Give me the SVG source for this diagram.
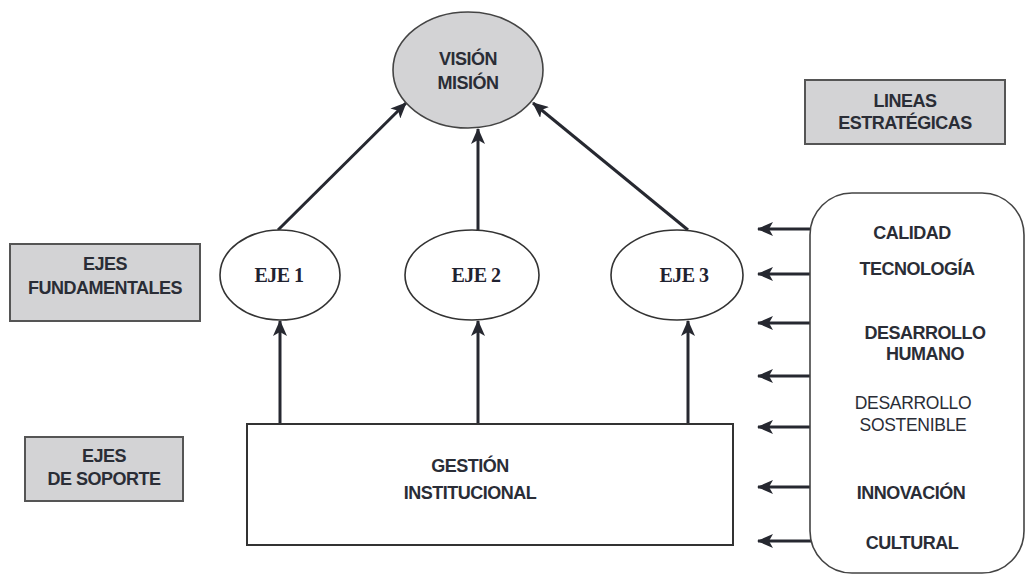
<svg xmlns="http://www.w3.org/2000/svg" width="1026" height="574" viewBox="0 0 1026 574">
<style>
.lbl{font-family:"Liberation Sans",Arial,sans-serif;font-weight:bold;font-size:18px;letter-spacing:-0.5px;fill:#2a2d36;text-anchor:middle}
.reg{font-family:"Liberation Sans",Arial,sans-serif;font-weight:normal;font-size:17.5px;letter-spacing:-0.3px;fill:#2a2d36;text-anchor:middle}
.eje{font-family:"Liberation Serif","Times New Roman",serif;font-weight:bold;font-size:20px;letter-spacing:-0.5px;fill:#1f2230;text-anchor:middle}
.gbox{fill:#d3d3d5;stroke:#555;stroke-width:2}
.ell{fill:#fff;stroke:#333;stroke-width:1.6}
.arr{stroke:#262830;stroke-width:3;fill:none;marker-end:url(#ah)}
</style>
<defs>
<marker id="ah" markerUnits="userSpaceOnUse" markerWidth="18" markerHeight="14" refX="15" refY="7" orient="auto">
<path d="M0,0 L16,7 L0,14 L4,7 Z" fill="#262830"/>
</marker>
</defs>
<rect width="1026" height="574" fill="#fff"/>

<g id="connectors">
<line class="arr" x1="278" y1="230" x2="406" y2="103"/>
<line class="arr" x1="478" y1="230" x2="478" y2="129"/>
<line class="arr" x1="688" y1="230" x2="533" y2="103"/>
<line class="arr" x1="280" y1="425" x2="280" y2="321"/>
<line class="arr" x1="478" y1="425" x2="478" y2="321"/>
<line class="arr" x1="688" y1="425" x2="688" y2="321"/>
<line class="arr" x1="811" y1="229" x2="758" y2="229"/>
<line class="arr" x1="811" y1="274" x2="758" y2="274"/>
<line class="arr" x1="811" y1="323" x2="758" y2="323"/>
<line class="arr" x1="811" y1="376" x2="758" y2="376"/>
<line class="arr" x1="811" y1="427" x2="758" y2="427"/>
<line class="arr" x1="811" y1="487" x2="758" y2="487"/>
<line class="arr" x1="811" y1="541" x2="758" y2="541"/>
</g>

<g id="vision">
<ellipse cx="468" cy="70" rx="75" ry="58" fill="#d3d3d5" stroke="#444" stroke-width="1.6"/>
<text class="lbl" x="468" y="65">VISIÓN</text>
<text class="lbl" x="468" y="89">MISIÓN</text>
</g>

<g id="lineas">
<rect class="gbox" x="805" y="80" width="200" height="64"/>
<text class="lbl" x="905" y="107">LINEAS</text>
<text class="lbl" x="905" y="129">ESTRATÉGICAS</text>
</g>

<g id="ejes-fundamentales">
<rect class="gbox" x="10" y="244" width="190" height="77"/>
<text class="lbl" x="105" y="270">EJES</text>
<text class="lbl" x="105" y="294">FUNDAMENTALES</text>
</g>

<g id="eje1">
<ellipse class="ell" cx="280" cy="275" rx="60" ry="45"/>
<text class="eje" x="279" y="282">EJE 1</text>
</g>
<g id="eje2">
<ellipse class="ell" cx="472" cy="275" rx="67" ry="45"/>
<text class="eje" x="476" y="282">EJE 2</text>
</g>
<g id="eje3">
<ellipse class="ell" cx="677" cy="275" rx="66" ry="45"/>
<text class="eje" x="684" y="282">EJE 3</text>
</g>

<g id="ejes-soporte">
<rect class="gbox" x="25" y="437" width="158" height="64"/>
<text class="lbl" x="104" y="462">EJES</text>
<text class="lbl" x="104" y="485">DE SOPORTE</text>
</g>

<g id="gestion">
<rect x="247" y="424" width="486" height="121" fill="#fff" stroke="#333" stroke-width="2"/>
<text class="lbl" x="470" y="472">GESTIÓN</text>
<text class="lbl" x="470" y="499">INSTITUCIONAL</text>
</g>

<g id="lineas-lista">
<rect x="810" y="193" width="214" height="380" rx="42" ry="42" fill="#fff" stroke="#444" stroke-width="1.6"/>
<text class="lbl" x="912" y="239">CALIDAD</text>
<text class="lbl" x="917" y="275">TECNOLOGÍA</text>
<text class="lbl" x="925" y="339">DESARROLLO</text>
<text class="lbl" x="925" y="360">HUMANO</text>
<text class="reg" x="913" y="409">DESARROLLO</text>
<text class="reg" x="913" y="431">SOSTENIBLE</text>
<text class="lbl" x="911" y="499">INNOVACIÓN</text>
<text class="lbl" x="912" y="549">CULTURAL</text>
</g>
</svg>
